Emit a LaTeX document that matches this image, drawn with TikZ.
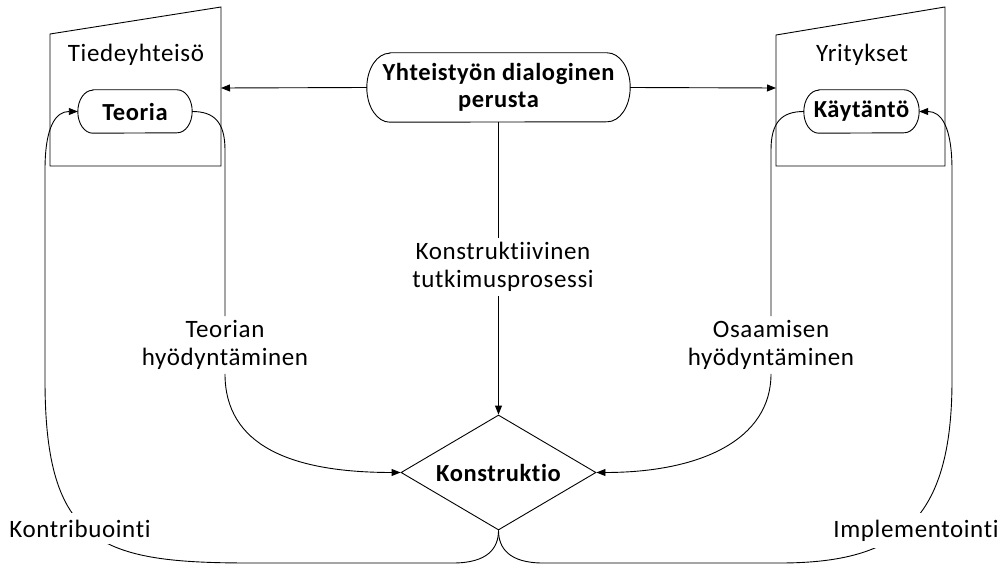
\documentclass[tikz,border=0pt]{standalone}
\usepackage{fontspec}
\setmainfont{Carlito}[Ligatures={NoCommon},LetterSpace=2.5]
\usetikzlibrary{arrows.meta,shapes.geometric}

% outline of a pill: flat top and bottom, half-ellipse ends
\newcommand\pilloutline[3]{%
  \draw[ln] ([xshift=#2]#1.north west) -- ([xshift=-#2]#1.north east)
    arc[start angle=90,end angle=-90,x radius=#2,y radius=#3]
    -- ([xshift=#2]#1.south west)
    arc[start angle=270,end angle=90,x radius=#2,y radius=#3] -- cycle;}

\begin{document}
\begin{tikzpicture}[x=1pt,y=-1pt,
  ln/.style={line width=0.9pt,black},
  arr/.style={ln,-{Triangle[length=9pt,width=7pt]}},
  txt/.style={font=\fontsize{25}{28}\selectfont,inner sep=0pt,align=center},
  btxt/.style={font=\fontsize{24.5}{27}\selectfont\bfseries,inner sep=0pt,align=center},
  lbl/.style={txt,inner ysep=4pt},
  cutlbl/.style={txt,fill=white,inner xsep=2pt,inner ysep=7pt}]
\useasboundingbox (0,0) rectangle (1002,564);

% two tilted-top boxes
\draw[ln] (50,34) -- (221,7) -- (221,166) -- (50,166) -- cycle;
\draw[ln] (776,35) -- (945,7) -- (945,166) -- (776,166) -- cycle;
\coordinate (tiedeR) at (221,88);
\coordinate (yritL) at (776,88);

\node[txt,anchor=base] (tiede) at (136,62) {Tiedeyhteisö};
\node[txt,anchor=base] (yrit) at (862,62) {Yritykset};

% pill-shaped nodes
\node[btxt,minimum width=263pt,minimum height=69pt] (yht) at (498.5,87.5)
  {Yhteistyön dialoginen\\perusta};
\pilloutline{yht}{23pt}{34.5pt}
\node[btxt,minimum width=114pt,minimum height=43pt] (teoria) at (135,111.5) {Teoria};
\pilloutline{teoria}{15pt}{21.5pt}
\node[btxt,minimum width=115pt,minimum height=43pt] (kayt) at (861.5,111.5) {Käytäntö};
\pilloutline{kayt}{15pt}{21.5pt}

% decision diamond
\node[btxt,diamond,draw,ln,aspect=1.7,minimum width=195pt,minimum height=115pt]
  (kon) at (498.5,472.5) {Konstruktio};

% connector labels
\node[lbl] (kt) at (503,267) {Konstruktiivinen\\tutkimusprosessi};
\node[lbl] (th) at (225,345) {Teorian\\hyödyntäminen};
\node[lbl] (oh) at (771,345) {Osaamisen\\hyödyntäminen};

% connectors
\draw[arr] (yht.west) -- (tiedeR);
\draw[arr] (yht.east) -- (yritL);
\draw[ln] (yht.south) -- (yht.south |- kt.north);
\draw[arr] (yht.south |- kt.south) -- (kon.north);

\draw[ln] (teoria.east) .. controls (214,111.5) and (225,122) .. (225,150) -- (th.north);
\draw[arr] (th.south) .. controls (225,445) and (290,472.5) .. (kon.west);
\draw[ln] (kayt.west) .. controls (782,111.5) and (771,122) .. (771,150) -- (oh.north);
\draw[arr] (oh.south) .. controls (771,440) and (700,472.5) .. (kon.east);

\draw[arr] (kon.south) .. controls (498.5,548) and (488,563) .. (453,563) -- (250,563)
  .. controls (100,563) and (45,545) .. (45,380) -- (45,170)
  .. controls (45,126) and (56,111.5) .. (teoria.west);
\draw[arr] (kon.south) .. controls (498.5,548) and (509,563) .. (543,563) -- (780,563)
  .. controls (900,563) and (952,520) .. (952,380) -- (952,170)
  .. controls (952,126) and (941,111.5) .. (kayt.east);

\node[cutlbl,anchor=base] (kontr) at (80,537) {Kontribuointi};
\node[cutlbl,anchor=base] (impl) at (916,537) {Implementointi};
\end{tikzpicture}
\end{document}
